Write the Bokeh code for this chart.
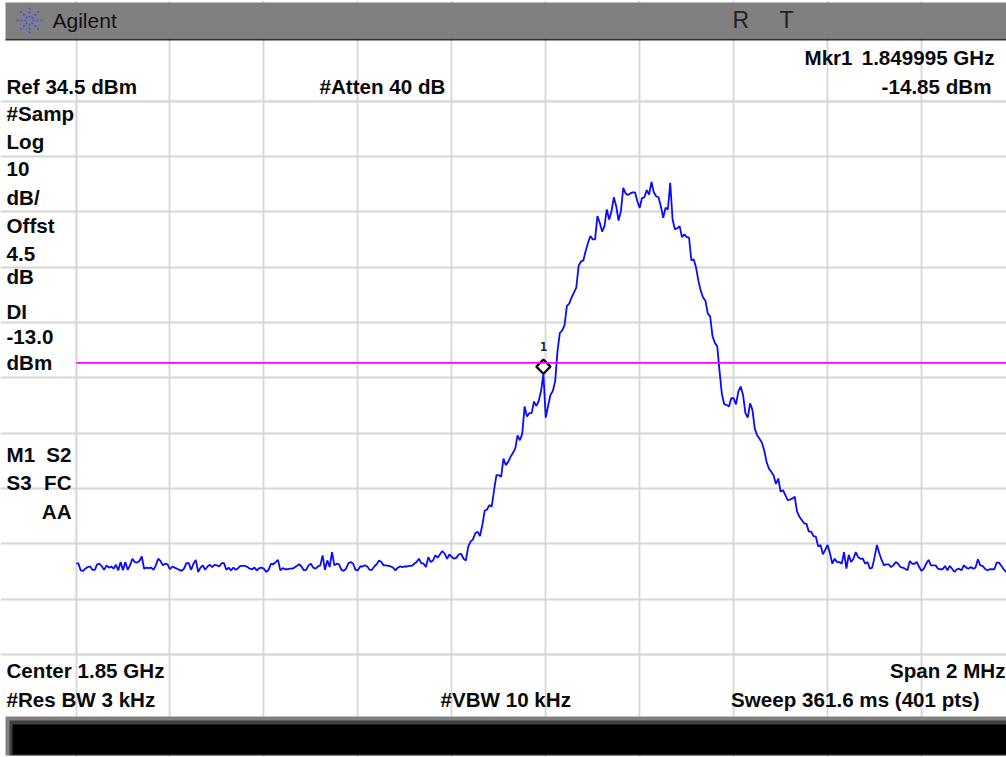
import numpy as np
from bokeh.plotting import figure
from bokeh.models import Range1d, Label, BoxAnnotation, FixedTicker
from bokeh.embed import file_html
from bokeh.resources import INLINE

# ---- instrument settings / chart values
freq_start_ghz = 1.849
freq_step_ghz = 0.000005
freq_grid_ghz = [1.8490, 1.8492, 1.8494, 1.8496, 1.8498, 1.8500, 1.8502, 1.8504, 1.8506, 1.8508, 1.8510]
level_grid_dbm = [34.5, 24.5, 14.5, 4.5, -5.5, -15.5, -25.5, -35.5, -45.5, -55.5, -65.5]
display_line_dbm = -12.8
marker_freq_ghz = 1.849995
marker_level_dbm = -14.85

trace_dbm = [
 -49.1,-49.0,-50.3,-50.4,-50.0,-49.7,-49.6,-50.2,-50.2,-49.2,-49.1,-49.6,-50.2,-49.4,-49.8,-49.6,-50.0,-49.3,-50.3,-48.8,
 -50.3,-48.8,-50.2,-49.4,-48.2,-48.8,-48.9,-48.6,-47.8,-50.0,-49.8,-49.9,-49.8,-50.2,-49.4,-48.2,-48.6,-49.4,-49.1,-49.2,
 -50.1,-49.6,-49.8,-50.0,-50.2,-50.4,-50.0,-49.0,-49.0,-50.2,-49.1,-48.4,-50.6,-49.8,-49.4,-50.2,-49.6,-49.3,-49.7,-49.3,
 -49.4,-49.6,-49.0,-49.0,-50.2,-49.8,-50.3,-49.8,-50.2,-49.9,-49.5,-49.5,-49.5,-49.7,-50.0,-50.1,-49.8,-50.3,-49.9,-49.8,
 -50.0,-50.6,-50.2,-49.1,-49.2,-48.8,-48.4,-50.3,-49.9,-50.1,-50.1,-50.0,-50.0,-49.8,-49.5,-49.2,-49.6,-50.3,-50.2,-49.4,
 -49.1,-49.8,-50.0,-49.6,-49.4,-47.6,-50.2,-48.5,-49.7,-47.0,-49.4,-49.1,-49.2,-50.2,-50.4,-50.0,-49.0,-48.8,-49.1,-50.2,
 -50.3,-49.6,-49.6,-49.4,-49.6,-50.2,-50.2,-49.6,-49.2,-48.5,-48.8,-49.4,-49.4,-49.5,-49.6,-49.8,-50.3,-49.8,-49.6,-49.7,
 -49.6,-49.6,-49.5,-49.5,-49.1,-48.8,-48.2,-49.0,-49.1,-49.7,-47.9,-48.8,-48.5,-47.6,-48.0,-47.4,-46.8,-47.3,-48.2,-47.4,
 -47.9,-48.2,-48.0,-47.4,-47.3,-48.2,-48.5,-46.0,-45.1,-44.7,-43.6,-43.3,-44.1,-42.1,-39.5,-39.3,-38.5,-38.8,-35.8,-33.1,
 -33.1,-33.4,-30.1,-31.3,-30.7,-29.8,-29.1,-28.3,-25.9,-26.8,-25.6,-20.7,-22.5,-21.9,-21.9,-19.8,-20.6,-19.7,-17.9,-14.85,
 -22.7,-20.6,-18.6,-17.9,-16.2,-10.7,-7.4,-7.0,-6.0,-2.5,-2.1,-1.0,-0.1,0.8,4.7,5.5,5.7,7.4,8.9,10.1,
 9.5,9.5,13.7,12.5,10.9,11.9,14.9,13.1,14.6,17.1,15.5,12.9,14.6,18.8,17.8,17.5,17.8,18.0,18.0,16.4,
 15.2,17.0,17.1,18.4,17.6,19.9,18.0,17.3,17.1,15.5,13.4,15.2,14.9,19.7,13.1,11.3,11.5,11.9,9.9,10.4,
 9.9,9.8,5.7,5.9,4.4,2.0,0.2,-1.0,-1.6,-3.9,-4.4,-8.0,-9.2,-9.8,-14.3,-18.5,-20.3,-20.4,-20.7,-19.2,
 -19.2,-20.3,-18.0,-17.1,-18.6,-21.9,-22.7,-20.1,-21.3,-24.7,-25.9,-26.5,-27.2,-28.6,-30.7,-31.9,-32.5,-33.1,-34.7,-33.7,
 -36.1,-35.8,-36.7,-37.6,-37.5,-37.3,-37.0,-39.7,-40.6,-41.2,-41.8,-41.9,-43.3,-43.3,-44.1,-44.2,-46.0,-45.7,-47.4,-46.6,
 -45.7,-47.2,-49.1,-48.2,-48.8,-48.8,-49.1,-47.0,-50.0,-47.5,-48.8,-48.2,-47.0,-47.9,-48.2,-48.2,-49.1,-48.8,-50.0,-49.8,
 -47.9,-45.7,-47.2,-48.4,-49.4,-49.2,-49.2,-49.7,-49.4,-48.8,-49.1,-49.7,-49.8,-50.0,-50.3,-48.6,-49.1,-49.1,-48.8,-49.7,
 -50.4,-50.0,-49.1,-48.4,-49.4,-49.4,-49.4,-50.0,-50.1,-50.1,-49.5,-50.3,-49.5,-50.0,-50.6,-50.1,-50.0,-50.3,-49.4,-49.8,
 -50.0,-49.7,-50.0,-49.8,-48.3,-49.4,-49.5,-50.0,-50.3,-50.1,-50.1,-50.1,-48.9,-48.9,-49.5,-50.1,-50.6,-50.6,
]

# label text, x px, baseline y px, alignment
left_labels = [("#Samp",121),("Log",149),("10",177),("dB/",205),("Offst",233),("4.5",262),("dB",284),
               ("DI",319),("-13.0",345),("dBm",370),("M1",462),("S3",490)]
info_labels = [("Ref 34.5 dBm",6,94,"left"),("#Atten 40 dB",319,94,"left"),
               ("Mkr1",804,65,"left"),("1.849995 GHz",994,65,"right"),("-14.85 dBm",991,94,"right"),
               ("S2",71,462,"right"),("FC",71,490,"right"),("AA",71,519,"right"),
               ("Center 1.85 GHz",6,678,"left"),("Span 2 MHz",1005,678,"right"),
               ("#Res BW 3 kHz",6,707,"left"),("#VBW 10 kHz",440,707,"left"),
               ("Sweep 361.6 ms (401 pts)",979,707,"right")]

W, H = 1006, 757
PX_L, PX_PER_DIV_X = 75.5, 93.95
PX_T, PX_PER_DIV_Y = 100.5, 55.35

def X(px):
    return 1.849 + (px - PX_L) / PX_PER_DIV_X * 0.0002

def Y(py):
    return 34.5 - (py - PX_T) / PX_PER_DIV_Y * 10.0

p = figure(width=W, height=H, output_backend="svg", toolbar_location=None,
           x_range=Range1d(X(0), X(W)), y_range=Range1d(Y(H), Y(0)),
           min_border=0, outline_line_color=None, background_fill_color="white")
p.axis.visible = False

GRID = "#d6d6d6"
p.xgrid.ticker = FixedTicker(ticks=freq_grid_ghz)
p.ygrid.ticker = FixedTicker(ticks=level_grid_dbm)
p.xgrid.bounds = (level_grid_dbm[-1], level_grid_dbm[0])
p.ygrid.bounds = (freq_grid_ghz[0], freq_grid_ghz[-1])
for g in (p.xgrid, p.ygrid):
    g.grid_line_color = GRID
    g.grid_line_width = 1.8

# graticule frame
p.add_layout(BoxAnnotation(left=freq_grid_ghz[0], right=freq_grid_ghz[-1], top=level_grid_dbm[0],
                           bottom=level_grid_dbm[-1], fill_alpha=0, line_color=GRID, line_width=3))

# instrument chrome
def band(l, r, t, b, color):
    p.add_layout(BoxAnnotation(left=X(l), right=X(r), top=Y(t), bottom=Y(b),
                               fill_color=color, fill_alpha=1, line_alpha=0, level="underlay"))

band(5, W, 2, 38, "#808080")
band(5, W, 38, 40, "#333333")
band(5, W, 716, 755, "#808080")
band(9, W, 720, 755, "#404040")
band(12, W, 724, 754, "#000000")

# logo: dots along eight rays
ang = np.arange(8) * np.pi / 4
lx = np.concatenate([29 + r * np.cos(ang) for r in (4, 8, 12)])
ly = np.concatenate([20 + r * np.sin(ang) for r in (4, 8, 12)])
p.scatter(X(lx), Y(ly), size=2.2, color="#4d4dec", line_alpha=0)

# trace
freq = freq_start_ghz + np.arange(len(trace_dbm)) * freq_step_ghz
p.line(freq, trace_dbm, line_color="#0a0aff", line_width=1.8)

# marker: diamond sits on top of the trace point
p.scatter([marker_freq_ghz], [marker_level_dbm + 1.35], marker="square", angle=np.pi / 4, size=10,
          fill_color="white", line_color="#111111", line_width=2.4)

# display line, drawn across the graticule only
p.line([freq_grid_ghz[0], freq_grid_ghz[-1]], [display_line_dbm, display_line_dbm],
       line_color="#ff00ff", line_width=1.7)

FONT = "Liberation Sans"
def label(txt, px, py, align="left", size=20.6, style="bold", color="#0a0a0a", font=FONT):
    p.add_layout(Label(x=X(px), y=Y(py - 0.4 * size), text=txt, text_align=align, text_baseline="alphabetic",
                       text_font=font, text_font_size=f"{size}px", text_font_style=style, text_color=color))

for t, py in left_labels:
    label(t, 6, py)
for t, px, py, a in info_labels:
    label(t, px, py, a)
label("1", 543, 351, "center", 12, "bold", "#222222", "DejaVu Sans Mono")
label("Agilent", 52, 28, "left", 21, "normal", "#111111")
label("R", 732, 29, "left", 23, "normal", "#222222")
label("T", 779, 29, "left", 23, "normal", "#222222")

open("out.html", "w").write(file_html(p, INLINE))
